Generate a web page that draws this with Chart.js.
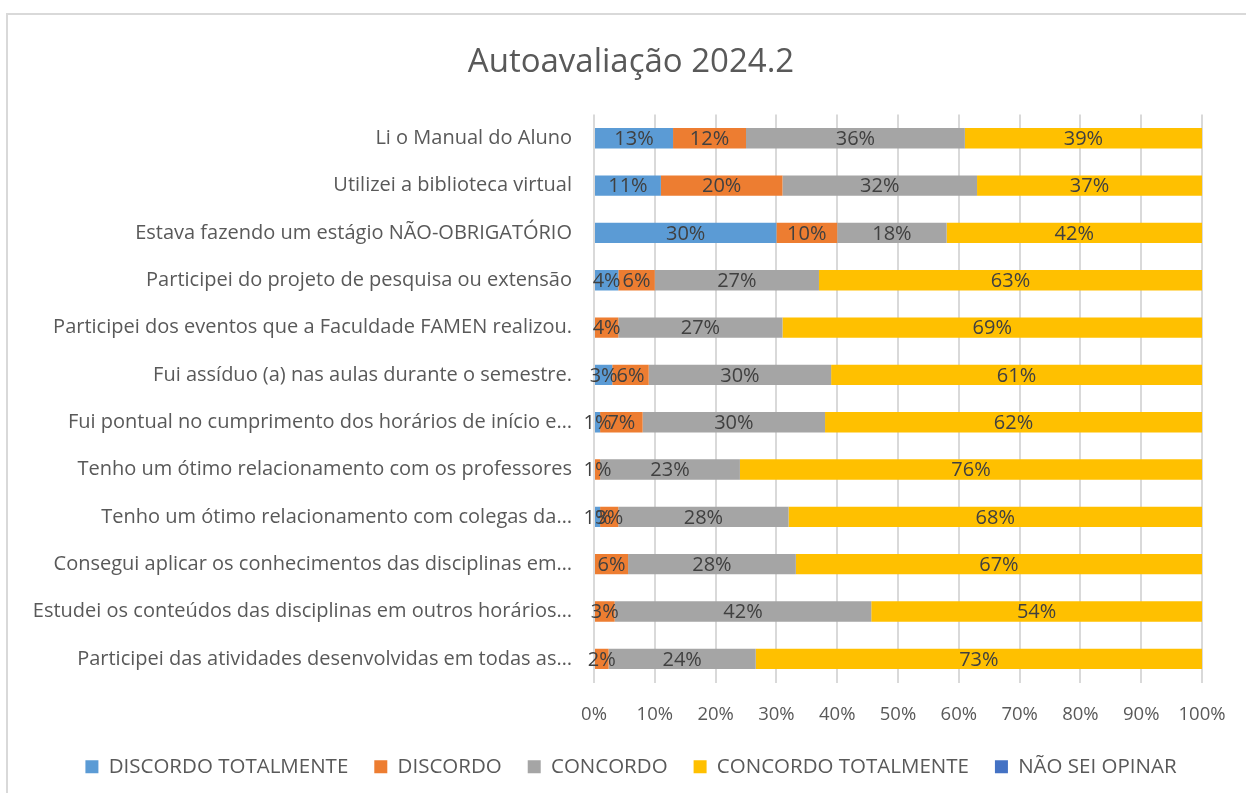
<!DOCTYPE html>
<html>
<head>
<meta charset="utf-8">
<script src="https://cdn.jsdelivr.net/npm/chart.js@4.4.1/dist/chart.umd.min.js"></script>
<style>
  html, body { margin: 0; padding: 0; background: #fff; overflow: hidden; width: 1246px; height: 793px; }
  .frame { position: absolute; left: 6px; top: 13px; width: 1300px; height: 900px; border: 2px solid #d9d9d9; box-sizing: border-box; }
  .wrap { position: absolute; left: 8px; top: 0; width: 1246px; height: 787px; }
</style>
</head>
<body>
<div class="frame"></div>
<div class="wrap"><canvas id="chart"></canvas></div>
<script>
// ── Data ──────────────────────────────────────────────
const categories = [
  'Li o Manual do Aluno',
  'Utilizei a biblioteca virtual',
  'Estava fazendo um estágio NÃO-OBRIGATÓRIO',
  'Participei do projeto de pesquisa ou extensão',
  'Participei dos eventos que a Faculdade FAMEN realizou.',
  'Fui assíduo (a) nas aulas durante o semestre.',
  'Fui pontual no cumprimento dos horários de início e…',
  'Tenho um ótimo relacionamento com os professores',
  'Tenho um ótimo relacionamento com colegas da…',
  'Consegui aplicar os conhecimentos das disciplinas em…',
  'Estudei os conteúdos das disciplinas em outros horários…',
  'Participei das atividades desenvolvidas em todas as…'
];
const discordoTotalmente = [13, 11, 30, 4, 0, 3, 1, 0, 1, 0, 0, 0];
const discordo           = [12, 20, 10, 6, 4, 6, 7, 1, 3, 5.6, 3.4, 2.4];
const concordo           = [36, 32, 18, 27, 27, 30, 30, 23, 28, 27.6, 42.2, 24.2];
const concordoTotalmente = [39, 37, 42, 63, 69, 61, 62, 76, 68, 66.8, 54.4, 73.4];
const naoSeiOpinar       = [0, 0, 0, 0, 0, 0, 0, 0, 0, 0, 0, 0];
const xTicks = [0, 10, 20, 30, 40, 50, 60, 70, 80, 90, 100];

Chart.defaults.font.family = '"Open Sans", "Noto Sans", sans-serif';
Chart.defaults.color = '#595959';

// ── Value labels centred in each segment ─────────────
const valueLabels = {
  id: 'valueLabels',
  afterDatasetsDraw(chart) {
    const ctx = chart.ctx;
    ctx.save();
    ctx.font = '20px "Open Sans", sans-serif';
    ctx.fillStyle = '#404040';
    ctx.textAlign = 'center';
    ctx.textBaseline = 'middle';
    chart.data.datasets.forEach((ds, i) => {
      const meta = chart.getDatasetMeta(i);
      meta.data.forEach((bar, j) => {
        const v = ds.data[j];
        if (!v || v < 0.5) return;
        const p = bar.getProps(['x', 'y', 'base'], true);
        ctx.fillText(Math.round(v) + '%', (p.x + p.base) / 2, p.y + 1);
      });
    });
    ctx.restore();
  }
};

const barOpts = { barPercentage: 0.43, categoryPercentage: 1 };

new Chart(document.getElementById('chart'), {
  type: 'bar',
  data: {
    labels: categories,
    datasets: [
      { label: 'DISCORDO TOTALMENTE', data: discordoTotalmente, backgroundColor: '#5B9BD5', ...barOpts },
      { label: 'DISCORDO', data: discordo, backgroundColor: '#ED7D31', ...barOpts },
      { label: 'CONCORDO', data: concordo, backgroundColor: '#A5A5A5', ...barOpts },
      { label: 'CONCORDO TOTALMENTE', data: concordoTotalmente, backgroundColor: '#FFC000', ...barOpts },
      { label: 'NÃO SEI OPINAR', data: naoSeiOpinar, backgroundColor: '#4472C4', ...barOpts }
    ]
  },
  options: {
    indexAxis: 'y',
    responsive: true,
    maintainAspectRatio: false,
    animation: false,
    layout: { padding: 0 },
    plugins: {
      title: {
        display: true,
        text: 'Autoavaliação 2024.2',
        color: '#595959',
        font: { size: 33, weight: 'normal' },
        padding: { top: 43, bottom: 32 }
      },
      legend: {
        position: 'bottom',
        labels: {
          boxWidth: 13, boxHeight: 13, padding: 26,
          color: '#595959',
          font: { size: 20.5 }
        }
      },
      tooltip: { enabled: false }
    },
    scales: {
      x: {
        stacked: true,
        min: 0, max: 100,
        afterBuildTicks: axis => { axis.ticks = xTicks.map(v => ({ value: v })); },
        ticks: { callback: v => v + '%', color: '#595959', font: { size: 18.5 }, padding: 21 },
        grid: { color: '#d9d9d9', lineWidth: 2, drawTicks: false },
        border: { display: false },
        afterFit: s => { s.height = 48; }
      },
      y: {
        stacked: true,
        ticks: { color: '#595959', font: { size: 20 }, padding: 22, autoSkip: false },
        grid: { display: false, drawTicks: false },
        border: { display: false },
        afterFit: s => { s.width = 586; }
      },
      // empty right-hand axis, only keeps the margin on the right
      yRight: {
        axis: 'y',
        position: 'right',
        grid: { display: false, drawTicks: false },
        ticks: { display: false },
        border: { display: false },
        afterFit: s => { s.width = 52; }
      }
    }
  },
  plugins: [valueLabels]
});
</script>
</body>
</html>
